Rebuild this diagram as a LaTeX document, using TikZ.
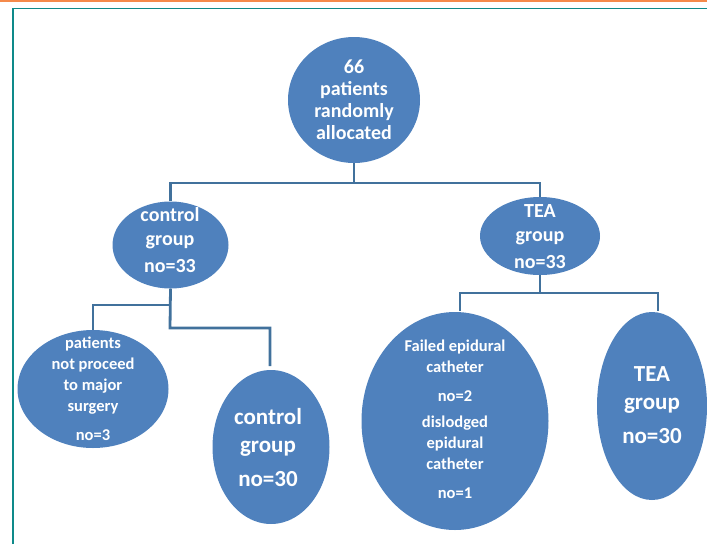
\documentclass[tikz,border=0pt]{standalone}
\usepackage{fontspec}
\setmainfont{Carlito}
\usetikzlibrary{shapes.geometric}
\definecolor{bfill}{HTML}{4F81BD}
\definecolor{bline}{HTML}{41719C}
\definecolor{teal0}{HTML}{0E8A8A}
\definecolor{orng}{HTML}{F58A4B}
\tikzset{
  blob/.style={ellipse, fill=bfill, draw=none, inner sep=0pt},
  txt/.style={text=white, font=\bfseries, align=center, inner sep=0pt},
  conn/.style={draw=bline, line width=2.8pt}
}
\begin{document}
\begin{tikzpicture}[x=1pt,y=-1pt]
\useasboundingbox (0,0) rectangle (707,544);
% frame
\fill[orng] (0,0) rectangle (707,2.2);
\draw[teal0, line width=1.6pt] (13,544) -- (13,8.5) -- (707,8.5);
% ellipses
\node[blob, minimum width=132pt, minimum height=126pt] (e1) at (354,100) {};
\node[blob, minimum width=116pt, minimum height=87pt] (e2) at (170.5,245) {};
\node[blob, minimum width=120pt, minimum height=78pt] (e3) at (540,236) {};
\node[blob, minimum width=151pt, minimum height=118pt] (e4) at (93,389) {};
\node[blob, minimum width=117pt, minimum height=154pt] (e5) at (271,447) {};
\node[blob, minimum width=187pt, minimum height=218pt] (e6) at (455,421) {};
\node[blob, minimum width=110pt, minimum height=188pt] (e7) at (652,406) {};
% texts
\node[txt, font=\bfseries\fontsize{20}{22}\selectfont] (t1) at (354,100) {66\\patients\\randomly\\allocated};
\node[txt, font=\bfseries\fontsize{20}{24}\selectfont] (t2) at (170,240) {control\\group\\[3pt]no=33};
\node[txt, font=\bfseries\fontsize{20}{24}\selectfont] (t3) at (540,237) {TEA\\group\\[3pt]no=33};
\node[txt, font=\bfseries\fontsize{16.5}{21}\selectfont] (t4) at (93,389) {patients\\not proceed\\to major\\surgery\\[8pt]no=3};
\node[txt, font=\bfseries\fontsize{23}{28}\selectfont] (t5) at (268,448) {control\\group\\[6pt]no=30};
\node[txt, font=\bfseries\fontsize{16.5}{21}\selectfont] (t6) at (455,419) {Failed epidural\\catheter\\[8pt]no=2\\[5pt]dislodged\\epidural\\catheter\\[8pt]no=1};
\node[txt, font=\bfseries\fontsize{23}{28}\selectfont] (t7) at (652,405) {TEA\\group\\[6pt]no=30};
% connectors
\coordinate (b1) at (354,183);
\coordinate (b2) at (170,305);
\coordinate (b2x) at (170,328);
\coordinate (b3) at (540,293);
\coordinate (c5) at (270,366);
\coordinate (c6) at (460,311);
\coordinate (c7) at (658,311);
\draw[conn] (e1.south) -- (b1);
\draw[conn] (e2.north) -- (e2.north |- b1) -- (e3.north |- b1) -- (e3.north);
\draw[conn] (e2.south) -- (b2x) -| (c5);
\draw[conn] (b2) -| (e4.north);
\draw[conn] (e3.south) -- (b3);
\draw[conn] (c6) -- (c6 |- b3) -- (c7 |- b3) -- (c7);
\end{tikzpicture}
\end{document}
